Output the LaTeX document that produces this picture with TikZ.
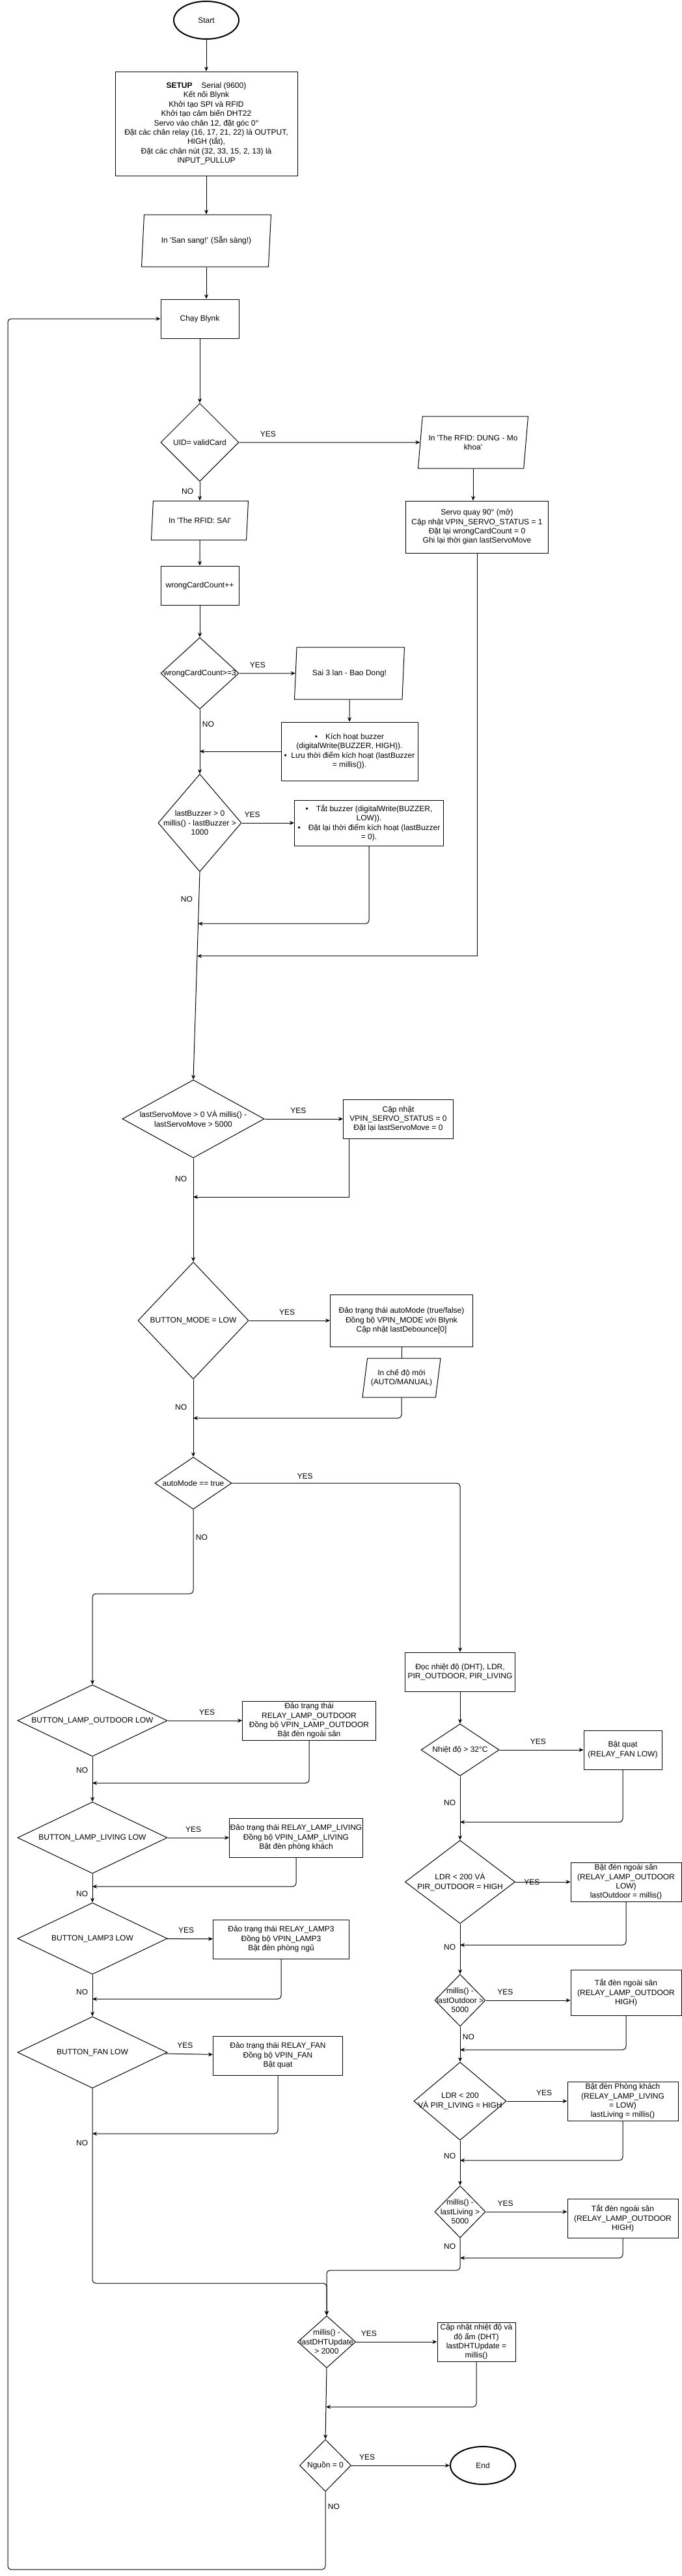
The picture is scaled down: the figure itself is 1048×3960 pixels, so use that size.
\documentclass[tikz,border=0pt]{standalone}
\usepackage{fontspec}
\setmainfont{Liberation Sans}
\usetikzlibrary{shapes.geometric,arrows.meta,calc}
\newcommand{\sq}{\textquotesingle}
\begin{document}
\begin{tikzpicture}[x=1pt,y=-1pt,
    font=\fontsize{12pt}{14.4pt}\selectfont,
    proc/.style={rectangle,draw=black,line width=1pt,align=center,inner sep=1pt},
    dec/.style={diamond,draw=black,line width=1pt,inner sep=0pt},
    io/.style={trapezium,trapezium left angle=75,trapezium right angle=105,trapezium stretches body,draw=black,line width=1pt,align=center,inner sep=1pt},
    term/.style={ellipse,draw=black,line width=2pt,inner sep=0pt,minimum width=100pt,minimum height=58pt},
    lbl/.style={align=center,inner sep=0pt},
    arr/.style={-{Stealth[length=7pt,width=6pt]},line width=1pt},
    wire/.style={line width=1pt}]
    \path[use as bounding box,fill=white] (0,0) rectangle (1048,3960);

    \node[term] (START) at (317,31) {Start};
    \node[proc,minimum width=280pt,minimum height=160pt] (SETUP) at (317,190) {\textbf{SETUP}\hspace{14pt}Serial (9600)\\Kết nối Blynk\\Khởi tạo SPI và RFID\\Khởi tạo cảm biến DHT22\\Servo vào chân 12, đặt góc 0°\\Đặt các chân relay (16, 17, 21, 22) là OUTPUT,\\HIGH (tắt),\\Đặt các chân nút (32, 33, 15, 2, 13) là\\INPUT\_PULLUP};
    \node[io,minimum width=199pt,minimum height=80pt] (READY) at (317,370) {In \sq San sang!\sq{} (Sẵn sàng!)};
    \node[proc,minimum width=120pt,minimum height=60pt] (BLYNK) at (307,490) {Chạy Blynk};
    \node[dec,minimum width=120pt,minimum height=120pt,label={[lbl]center:{UID= validCard}}] (UID) at (307,680) {};
    \node[io,minimum width=169pt,minimum height=80pt] (OK) at (727,680) {In \sq The RFID: DUNG - Mo\\khoa\sq};
    \node[proc,minimum width=219pt,minimum height=80pt] (SERVO) at (733,810) {Servo quay 90° (mở)\\Cập nhật VPIN\_SERVO\_STATUS = 1\\Đặt lại wrongCardCount = 0\\Ghi lại thời gian lastServoMove};
    \node[io,minimum width=149pt,minimum height=60pt] (BAD) at (307,800) {In \sq The RFID: SAI\sq};
    \node[proc,minimum width=120pt,minimum height=60pt] (WRONG) at (307,900) {wrongCardCount++};
    \node[dec,minimum width=120pt,minimum height=110pt,label={[lbl]center:{wrongCardCount>=3}}] (CNT) at (307,1035) {};
    \node[io,minimum width=169pt,minimum height=80pt] (ALARM) at (537,1035) {Sai 3 lan - Bao Dong!};
    \node[proc,minimum width=210pt,minimum height=90pt] (BUZON) at (537,1155) {\textbullet\quad Kích hoạt buzzer\\(digitalWrite(BUZZER, HIGH)).\\\textbullet\ \ Lưu thời điểm kích hoạt (lastBuzzer\\= millis()).};
    \node[dec,minimum width=128pt,minimum height=150pt,label={[lbl]center:{lastBuzzer > 0\\millis() - lastBuzzer >\\1000}}] (BUZCHK) at (307,1265) {};
    \node[proc,minimum width=229pt,minimum height=70pt] (BUZOFF) at (567,1265) {\textbullet\quad Tắt buzzer (digitalWrite(BUZZER,\\LOW)).\\\textbullet\quad Đặt lại thời điểm kích hoạt (lastBuzzer\\= 0).};
    \node[dec,minimum width=218pt,minimum height=120pt,label={[lbl]center:{lastServoMove > 0 VÀ millis() -\\lastServoMove > 5000}}] (SRVCHK) at (297,1720) {};
    \node[proc,minimum width=169pt,minimum height=60pt] (SRVRST) at (612,1720) {Cập nhật\\VPIN\_SERVO\_STATUS = 0\\Đặt lại lastServoMove = 0};
    \node[dec,minimum width=170pt,minimum height=180pt,label={[lbl]center:{BUTTON\_MODE = LOW}}] (MODE) at (297,2030) {};
    \node[proc,minimum width=219pt,minimum height=80pt] (TOGGLE) at (617,2030) {Đảo trạng thái autoMode (true/false)\\Đồng bộ VPIN\_MODE với Blynk\\Cập nhật lastDebounce[0]};
    \node[io,minimum width=120pt,minimum height=60pt] (SHOW) at (617,2118) {In chế độ mới\\(AUTO/MANUAL)};
    \node[dec,minimum width=118pt,minimum height=80pt,label={[lbl]center:{autoMode == true}}] (AUTO) at (297,2280) {};
    \node[proc,minimum width=169pt,minimum height=60pt] (SENSE) at (707,2570) {Đọc nhiệt độ (DHT), LDR,\\PIR\_OUTDOOR, PIR\_LIVING};

    \node[dec,minimum width=230pt,minimum height=110pt,label={[lbl]center:{BUTTON\_LAMP\_OUTDOOR LOW}}] (BTN1) at (142,2645) {};
    \node[proc,minimum width=205pt,minimum height=60pt] (ACT1) at (475,2645) {Đảo trạng thái\\RELAY\_LAMP\_OUTDOOR\\Đồng bộ VPIN\_LAMP\_OUTDOOR\\Bật đèn ngoài sân};
    \node[dec,minimum width=230pt,minimum height=110pt,label={[lbl]center:{BUTTON\_LAMP\_LIVING LOW}}] (BTN2) at (142,2825) {};
    \node[proc,minimum width=205pt,minimum height=60pt] (ACT2) at (455,2825) {Đảo trạng thái RELAY\_LAMP\_LIVING\\Đồng bộ VPIN\_LAMP\_LIVING\\Bật đèn phòng khách};
    \node[dec,minimum width=230pt,minimum height=110pt,label={[lbl]center:{BUTTON\_LAMP3 LOW}}] (BTN3) at (142,2980) {};
    \node[proc,minimum width=209pt,minimum height=60pt] (ACT3) at (432,2981) {Đảo trạng thái RELAY\_LAMP3\\Đồng bộ VPIN\_LAMP3\\Bật đèn phòng ngủ};
    \node[dec,minimum width=230pt,minimum height=110pt,label={[lbl]center:{BUTTON\_FAN LOW}}] (BTN4) at (142,3155) {};
    \node[proc,minimum width=199pt,minimum height=60pt] (ACT4) at (427,3160) {Đảo trạng thái RELAY\_FAN\\Đồng bộ VPIN\_FAN\\Bật quạt};

    \node[dec,minimum width=120pt,minimum height=80pt,label={[lbl]center:{Nhiệt độ > 32°C}}] (TEMP) at (707,2690) {};
    \node[proc,minimum width=120pt,minimum height=60pt] (FAN) at (957,2690) {Bật quạt\\(RELAY\_FAN LOW)};
    \node[dec,minimum width=169pt,minimum height=128pt,label={[lbl]center:{LDR < 200 VÀ\\PIR\_OUTDOOR = HIGH}}] (LDR1) at (707,2893) {};
    \node[proc,minimum width=170pt,minimum height=60pt] (LAMP1) at (962,2893) {Bật đèn ngoài sân\\(RELAY\_LAMP\_OUTDOOR\\LOW)\\lastOutdoor = millis()};
    \node[dec,minimum width=78pt,minimum height=80pt,label={[lbl]center:{millis() -\\lastOutdoor >\\5000}}] (TMR1) at (707,3075) {};
    \node[proc,minimum width=170pt,minimum height=70pt] (OFF1) at (962,3063) {Tắt đèn ngoài sân\\(RELAY\_LAMP\_OUTDOOR\\HIGH)};
    \node[dec,minimum width=142pt,minimum height=120pt,label={[lbl]center:{LDR < 200\\VÀ PIR\_LIVING = HIGH}}] (LDR2) at (707,3230) {};
    \node[proc,minimum width=170pt,minimum height=60pt] (LAMP2) at (957,3230) {Bật đèn Phòng khách\\(RELAY\_LAMP\_LIVING\\= LOW)\\lastLiving = millis()};
    \node[dec,minimum width=78pt,minimum height=80pt,label={[lbl]center:{millis() -\\lastLiving >\\5000}}] (TMR2) at (707,3400) {};
    \node[proc,minimum width=170pt,minimum height=60pt] (OFF2) at (957,3410) {Tắt đèn ngoài sân\\(RELAY\_LAMP\_OUTDOOR\\HIGH)};

    \node[dec,minimum width=89pt,minimum height=80pt,label={[lbl]center:{millis() -\\lastDHTUpdate\\> 2000}}] (DHT) at (502,3600) {};
    \node[proc,minimum width=120pt,minimum height=60pt] (DHTUP) at (732,3600) {Cập nhật nhiệt độ và\\độ ẩm (DHT)\\lastDHTUpdate =\\millis()};
    \node[dec,minimum width=79pt,minimum height=80pt,label={[lbl]center:{Nguồn = 0}}] (PWR) at (500,3790) {};
    \node[term] (END) at (742,3790) {End};

    \coordinate (J1) at ($(BUZCHK.south)!.249!(SRVCHK.north)$);
    \coordinate (J2) at ($(BUZCHK.south)!.405!(SRVCHK.north)$);
    \coordinate (J3) at (297,1840);
    \coordinate (J4) at (297,2180);
    \coordinate (K1) at (142,2450);
    \coordinate (J5) at (142,2741);
    \coordinate (J6) at (142,2900);
    \coordinate (J7) at (142,3073);
    \coordinate (J8) at (142,3280);
    \coordinate (M1) at (502,3510);
    \coordinate (M2) at (502,3490);
    \coordinate (J9) at (707,2801);
    \coordinate (J10) at (707,2990);
    \coordinate (J11) at (707,3151);
    \coordinate (J12) at (707,3321);
    \coordinate (J13) at (707,3471);
    \coordinate (J14) at (501,3700);
    \coordinate (BACK) at (12,3950);

    \draw[arr] (START) -- (SETUP);
    \draw[arr] (SETUP) -- (READY);
    \draw[arr] (READY.south) -- (READY.south |- BLYNK.north);
    \draw[arr] (BLYNK) -- (UID);
    \draw[arr] (UID) -- node[pos=.16,above=5pt] {YES} (OK);
    \draw[arr] (OK.south) -- (OK.south |- SERVO.north);
    \draw[arr] (UID) -- node[left=6pt] {NO} (BAD);
    \draw[arr] (BAD) -- (WRONG);
    \draw[arr] (WRONG) -- (CNT);
    \draw[arr] (CNT) -- node[pos=.33,above=5pt] {YES} (ALARM);
    \draw[arr] (ALARM) -- (BUZON);
    \draw[arr] (BUZON.west) -- (BUZON.west -| CNT.south);
    \draw[arr] (CNT) -- node[pos=.23,right] {NO} (BUZCHK);
    \draw[arr] (BUZCHK) -- node[pos=.2,above=5pt] {YES} (BUZOFF);
    \draw[arr,rounded corners=5pt] (BUZOFF.south) |- (J1);
    \draw[arr] (SERVO.south) |- (J2);
    \draw[arr] (BUZCHK.south) -- node[pos=.13,left=6pt] {NO} (SRVCHK.north);
    \draw[arr] (SRVCHK) -- node[pos=.43,above=5pt] {YES} (SRVRST);
    \draw[arr] ([xshift=9pt]SRVRST.south west) |- (J3);
    \draw[arr] (SRVCHK) -- node[pos=.2,left=6pt] {NO} (MODE);
    \draw[arr] (MODE) -- node[pos=.47,above=5pt] {YES} (TOGGLE);
    \draw[wire] (TOGGLE) -- (SHOW);
    \draw[arr,rounded corners=5pt] (SHOW.south) |- (J4);
    \draw[arr] (MODE) -- node[pos=.36,left=6pt] {NO} (AUTO);
    \draw[arr,rounded corners=5pt] (AUTO.east) -| node[pos=.16,above=3pt] {YES} (SENSE.north);
    \draw[arr,rounded corners=5pt] (AUTO.south) -- node[pos=.33,right] {NO} (AUTO.south |- K1) -- (K1) -- (BTN1.north);

    \draw[arr] (BTN1) -- node[pos=.53,above=5pt] {YES} (ACT1);
    \draw[arr,rounded corners=5pt] (ACT1.south) |- (J5);
    \draw[arr] (BTN1) -- node[pos=.3,left=3pt] {NO} (BTN2);
    \draw[arr] (BTN2) -- node[pos=.42,above=5pt] {YES} (ACT2);
    \draw[arr,rounded corners=5pt] (ACT2.south) |- (J6);
    \draw[arr] (BTN2) -- node[pos=.7,left=3pt] {NO} (BTN3);
    \draw[arr] (BTN3) -- node[pos=.42,above=5pt] {YES} (ACT3);
    \draw[arr,rounded corners=5pt] (ACT3.south) |- (J7);
    \draw[arr] (BTN3) -- node[pos=.42,left=3pt] {NO} (BTN4);
    \draw[arr] (BTN4) -- node[pos=.42,above=5pt] {YES} (ACT4);
    \draw[arr,rounded corners=5pt] (ACT4.south) |- (J8);
    \draw[arr,rounded corners=5pt] (BTN4.south) -- node[pos=.28,left=3pt] {NO} (BTN4.south |- M1) -- (M1) -- (DHT.north);

    \draw[arr] (SENSE) -- (TEMP);
    \draw[arr] (TEMP) -- node[pos=.46,above=5pt] {YES} (FAN);
    \draw[arr,rounded corners=5pt] (FAN.south) |- (J9);
    \draw[arr] (TEMP) -- node[pos=.42,left=3pt] {NO} (LDR1);
    \draw[arr] (LDR1) -- node[pos=.3] {YES} (LAMP1);
    \draw[arr,rounded corners=5pt] (LAMP1.south) |- (J10);
    \draw[arr] (LDR1) -- node[pos=.46,left=3pt] {NO} (TMR1);
    \draw[arr] (TMR1.east) -- node[pos=.23,above=5pt] {YES} (TMR1.east -| OFF1.west);
    \draw[arr,rounded corners=5pt] (OFF1.south) |- (J11);
    \draw[arr] (TMR1) -- node[pos=.3,right] {NO} (LDR2);
    \draw[arr] (LDR2) -- node[pos=.62,above=5pt] {YES} (LAMP2);
    \draw[arr,rounded corners=5pt] (LAMP2.south) |- (J12);
    \draw[arr] (LDR2) -- node[pos=.34,left=3pt] {NO} (TMR2);
    \draw[arr] (TMR2.east) -- node[pos=.24,above=5pt] {YES} (TMR2.east -| OFF2.west);
    \draw[arr,rounded corners=5pt] (OFF2.south) |- (J13);
    \draw[arr,rounded corners=5pt] (TMR2.south) -- node[pos=.26,left=3pt] {NO} (TMR2.south |- M2) -- (M2) -- (DHT.north);

    \draw[arr] (DHT) -- node[pos=.16,above=5pt] {YES} (DHTUP);
    \draw[arr,rounded corners=5pt] (DHTUP.south) |- (J14);
    \draw[arr] (DHT.south) -- (PWR.north);
    \draw[arr] (PWR) -- node[pos=.16,above=5pt] {YES} (END);
    \draw[arr,rounded corners=5pt] (PWR.south) -- node[pos=.19,right] {NO} (PWR.south |- BACK) -- (BACK) |- (BLYNK.west);
\end{tikzpicture}
\end{document}
